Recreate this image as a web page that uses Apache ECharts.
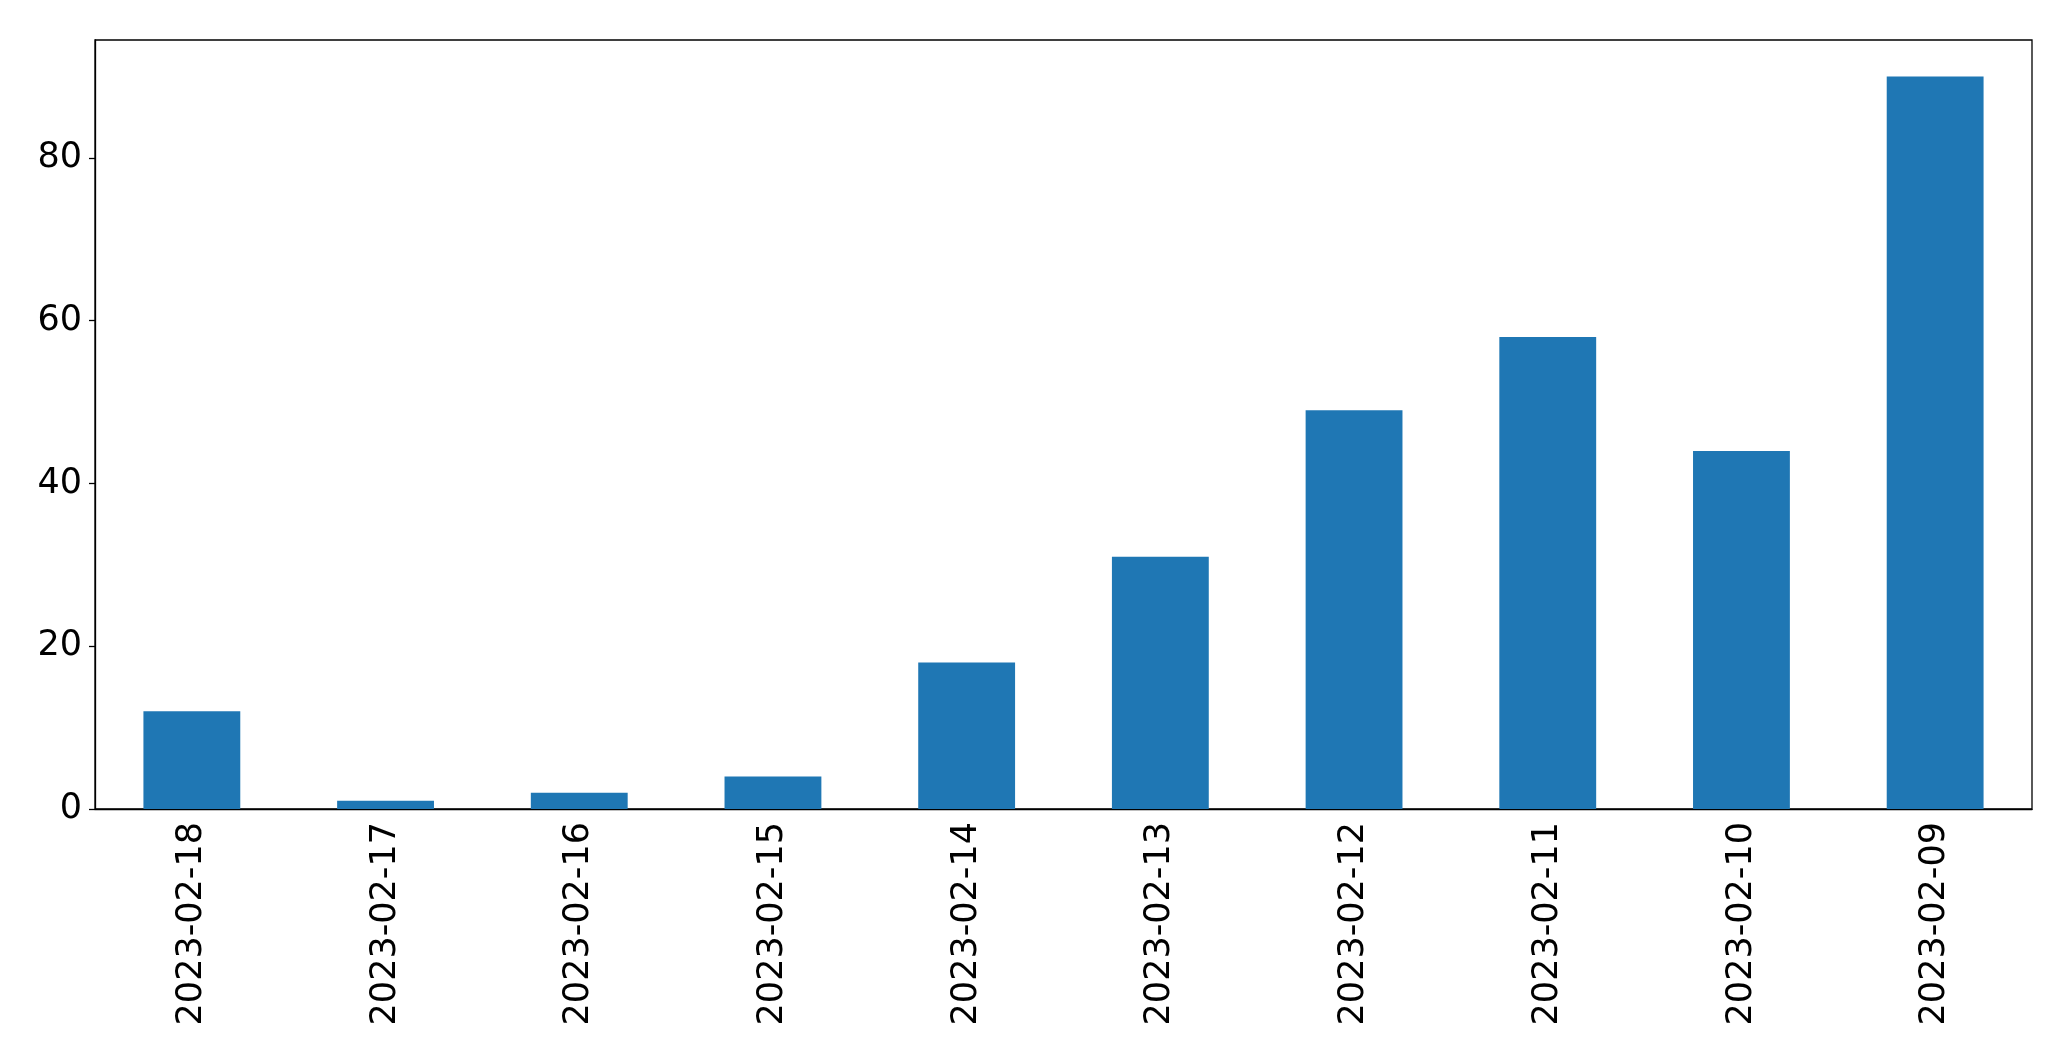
<!DOCTYPE html>
<html>
<head>
<meta charset="utf-8">
<script src="https://cdn.jsdelivr.net/npm/echarts@6/dist/echarts.min.js"></script>
<style>
  html, body { margin: 0; padding: 0; background: #fff; }
  #chart { width: 2071px; height: 1061px; }
</style>
</head>
<body>
<div id="chart"></div>
<script>
// dates as drawn, newest first
const dates = [
  "2023-02-18", "2023-02-17", "2023-02-16", "2023-02-15", "2023-02-14",
  "2023-02-13", "2023-02-12", "2023-02-11", "2023-02-10", "2023-02-09",
];
const counts = [12, 1, 2, 4, 18, 31, 49, 58, 44, 90];
const yTicks = [0, 20, 40, 60, 80];

const font = "DejaVu Sans";
const chart = echarts.init(document.getElementById("chart"));

chart.setOption({
  animation: false,
  backgroundColor: "#ffffff",
  grid: {
    left: 95, right: 39, top: 40, bottom: 252,
    show: true, borderColor: "#000", borderWidth: 1.3,
  },
  xAxis: {
    type: "category",
    data: dates,
    boundaryGap: true,
    axisLine: { lineStyle: { color: "#000", width: 1.3 } },
    axisTick: { alignWithLabel: true, length: 6, lineStyle: { color: "#000", width: 1.3 } },
    axisLabel: { rotate: 90, margin: 13, color: "#000", fontFamily: font, fontSize: 35 },
  },
  yAxis: {
    type: "value",
    min: 0,
    max: 94.5,
    interval: 20,
    splitLine: { show: false },
    axisLine: { show: true, lineStyle: { color: "#000", width: 1.3 } },
    axisTick: { show: true, length: 6, lineStyle: { color: "#000", width: 1.3 } },
    axisLabel: {
      margin: 13, color: "#000", fontFamily: font, fontSize: 35,
      showMaxLabel: false,
      formatter: v => (yTicks.includes(v) ? String(v) : ""),
    },
  },
  series: [{
    type: "bar",
    data: counts,
    barWidth: "50%",
    itemStyle: { color: "#1f77b4" },
  }],
});
</script>
</body>
</html>
